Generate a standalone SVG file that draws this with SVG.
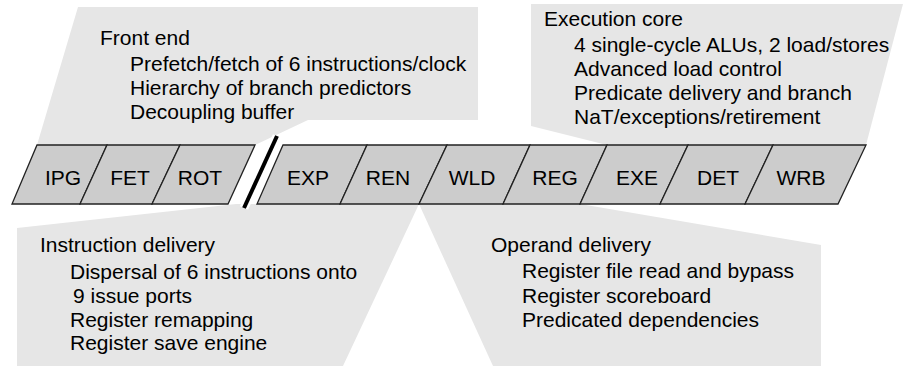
<svg xmlns="http://www.w3.org/2000/svg" width="904" height="366" viewBox="0 0 904 366">
<style>
.callout{fill:#e6e6e6;stroke:none}
.cell{fill:#cccccc;stroke:#222;stroke-width:1.3;stroke-linejoin:miter}
text{font-family:"Liberation Sans",Arial,sans-serif;fill:#000}
.lbl{font-size:21px;text-anchor:middle}
.ct{font-size:21px}
</style>
<rect width="904" height="366" fill="#fff"/>
<g id="front-end">
<polygon class="callout" points="78,7 478,7 478,120 308,120 255,145 37,145"/>
<text class="ct" x="100" y="45">Front end</text>
<text class="ct" x="130" y="71">Prefetch/fetch of 6 instructions/clock</text>
<text class="ct" x="130" y="95">Hierarchy of branch predictors</text>
<text class="ct" x="130" y="119">Decoupling buffer</text>
</g>
<g id="execution-core">
<polygon class="callout" points="531,4 903,4 866,145 607,145 531,126"/>
<text class="ct" x="544" y="26">Execution core</text>
<text class="ct" x="574" y="52">4 single-cycle ALUs, 2 load/stores</text>
<text class="ct" x="574" y="76">Advanced load control</text>
<text class="ct" x="574" y="100">Predicate delivery and branch</text>
<text class="ct" x="574" y="124">NaT/exceptions/retirement</text>
</g>
<g id="instruction-delivery">
<polygon class="callout" points="17,228 236,204 419,204 343,366 17,366"/>
<text class="ct" x="40" y="252">Instruction delivery</text>
<text class="ct" x="70" y="279">Dispersal of 6 instructions onto</text>
<text class="ct" x="73" y="303">9 issue ports</text>
<text class="ct" x="70" y="327">Register remapping</text>
<text class="ct" x="70" y="350">Register save engine</text>
</g>
<g id="operand-delivery">
<polygon class="callout" points="419,204 580,204 821,245 821,366 493,366"/>
<text class="ct" x="491" y="252">Operand delivery</text>
<text class="ct" x="522" y="278">Register file read and bypass</text>
<text class="ct" x="522" y="303">Register scoreboard</text>
<text class="ct" x="522" y="327">Predicated dependencies</text>
</g>
<g id="stage-IPG"><polygon class="cell" points="37,145 107,145 80,204 12,204"/><text class="lbl" x="63" y="185">IPG</text></g>
<g id="stage-FET"><polygon class="cell" points="107,145 180,145 152,204 80,204"/><text class="lbl" x="130" y="185">FET</text></g>
<g id="stage-ROT"><polygon class="cell" points="180,145 255,145 228,204 152,204"/><text class="lbl" x="200" y="185">ROT</text></g>
<g id="stage-EXP"><polygon class="cell" points="283,145 367,145 340,204 257,204"/><text class="lbl" x="308" y="185">EXP</text></g>
<g id="stage-REN"><polygon class="cell" points="367,145 447,145 419,204 340,204"/><text class="lbl" x="388" y="185">REN</text></g>
<g id="stage-WLD"><polygon class="cell" points="447,145 530,145 503,204 419,204"/><text class="lbl" x="472" y="185">WLD</text></g>
<g id="stage-REG"><polygon class="cell" points="530,145 607,145 580,204 503,204"/><text class="lbl" x="555" y="185">REG</text></g>
<g id="stage-EXE"><polygon class="cell" points="607,145 688,145 660,204 580,204"/><text class="lbl" x="637" y="185">EXE</text></g>
<g id="stage-DET"><polygon class="cell" points="688,145 773,145 745,204 660,204"/><text class="lbl" x="718" y="185">DET</text></g>
<g id="stage-WRB"><polygon class="cell" points="773,145 866,145 838,204 745,204"/><text class="lbl" x="801" y="185">WRB</text></g>
<g id="connectors">
<line x1="277" y1="136" x2="244" y2="208" stroke="#fff" stroke-width="9"/>
<line x1="277" y1="136" x2="244" y2="208" stroke="#000" stroke-width="4"/>
</g>
</svg>
